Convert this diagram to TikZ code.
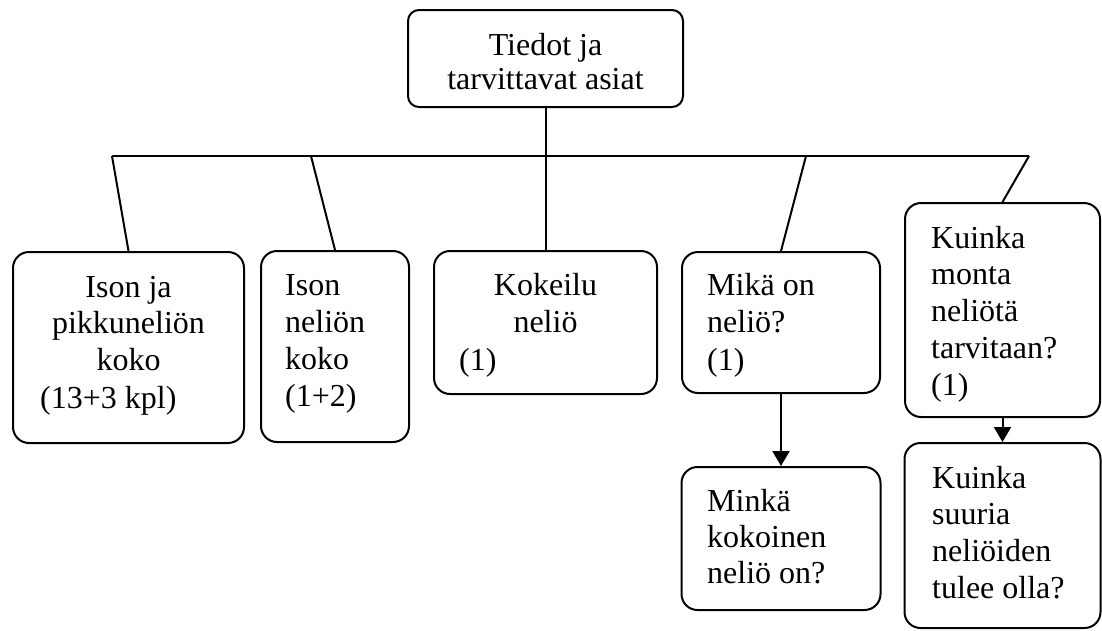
\documentclass[tikz,border=0pt]{standalone}
\usepackage{fontspec}
\setmainfont{Liberation Serif}
\usetikzlibrary{arrows.meta}
\begin{document}
\begin{tikzpicture}[x=1pt,y=-1pt,
  box/.style={draw,line width=2pt,rounded corners=16pt,minimum width=#1,inner sep=0pt},
  txt/.style={inner sep=0pt,font=\fontsize{32}{36.5}\selectfont},
  link/.style={line width=2pt},
  arr/.style={line width=2pt,-{Triangle[width=17pt,length=15pt]}}]
\useasboundingbox (0,0) rectangle (1102,630);
% boxes
\node[box=275pt,minimum height=97pt,rounded corners=11pt] (top) at (545.5,58.5) {};
\node[box=231pt,minimum height=191pt] (b1) at (128.5,347.5) {};
\node[box=148pt,minimum height=191pt] (b2) at (335,346.5) {};
\node[box=223pt,minimum height=143pt] (b3) at (545.5,322.5) {};
\node[box=198pt,minimum height=141pt] (b4) at (781,322.5) {};
\node[box=199pt,minimum height=143pt] (b6) at (781,538.5) {};
\node[box=195pt,minimum height=214pt] (b5) at (1002.5,310) {};
\node[box=196pt,minimum height=185pt] (b7) at (1002.5,535.5) {};
% texts
\node[txt,anchor=base] (t1) at (545.5,55) {Tiedot ja};
\node[txt,anchor=base] (t2) at (545.5,89) {tarvittavat asiat};
\foreach \t [count=\i] in {Ison ja,pikkuneliön,koko}
  \node[txt,anchor=base] (a\i) at (128.5,{297+36.8*(\i-1)}) {\t};
\node[txt,anchor=base west] (a4) at (40,408) {(13+3 kpl)};
\foreach \t [count=\i] in {Ison,neliön,koko,(1+2)}
  \node[txt,anchor=base west] (c\i) at (285,{295+37*(\i-1)}) {\t};
\foreach \t [count=\i] in {Kokeilu,neliö}
  \node[txt,anchor=base] (d\i) at (545.5,{295+37*(\i-1)}) {\t};
\node[txt,anchor=base west] (d3) at (459,370) {(1)};
\foreach \t [count=\i] in {Mikä on,neliö?,(1)}
  \node[txt,anchor=base west] (e\i) at (707,{295+37.5*(\i-1)}) {\t};
\foreach \t [count=\i] in {Kuinka,monta,neliötä,tarvitaan?,(1)}
  \node[txt,anchor=base west] (f\i) at (931,{248+36.8*(\i-1)}) {\t};
\foreach \t [count=\i] in {Minkä,kokoinen,neliö on?}
  \node[txt,anchor=base west] (g\i) at (707,{511+36*(\i-1)}) {\t};
\foreach \t [count=\i] in {Kuinka,suuria,neliöiden,tulee olla?}
  \node[txt,anchor=base west] (h\i) at (932,{488+36.7*(\i-1)}) {\t};
% bus
\coordinate (busL) at (112,156);
\coordinate (busR) at (1029,156);
\coordinate (busM) at (545.5,156);
\coordinate (j2) at (311,156);
\coordinate (j4) at (806,156);
\draw[link] (top.south) -- (busM);
\draw[link] (busL) -- (busR);
\draw[link] (busL) -- (b1.north);
\draw[link] (j2) -- (b2.north);
\draw[link] (busM) -- (b3.north);
\draw[link] (j4) -- (b4.north);
\draw[link] (busR) -- (b5.north);
\draw[arr] (b4.south) -- (b6.north);
\draw[arr] (b5.south) -- (b7.north);
\end{tikzpicture}
\end{document}
